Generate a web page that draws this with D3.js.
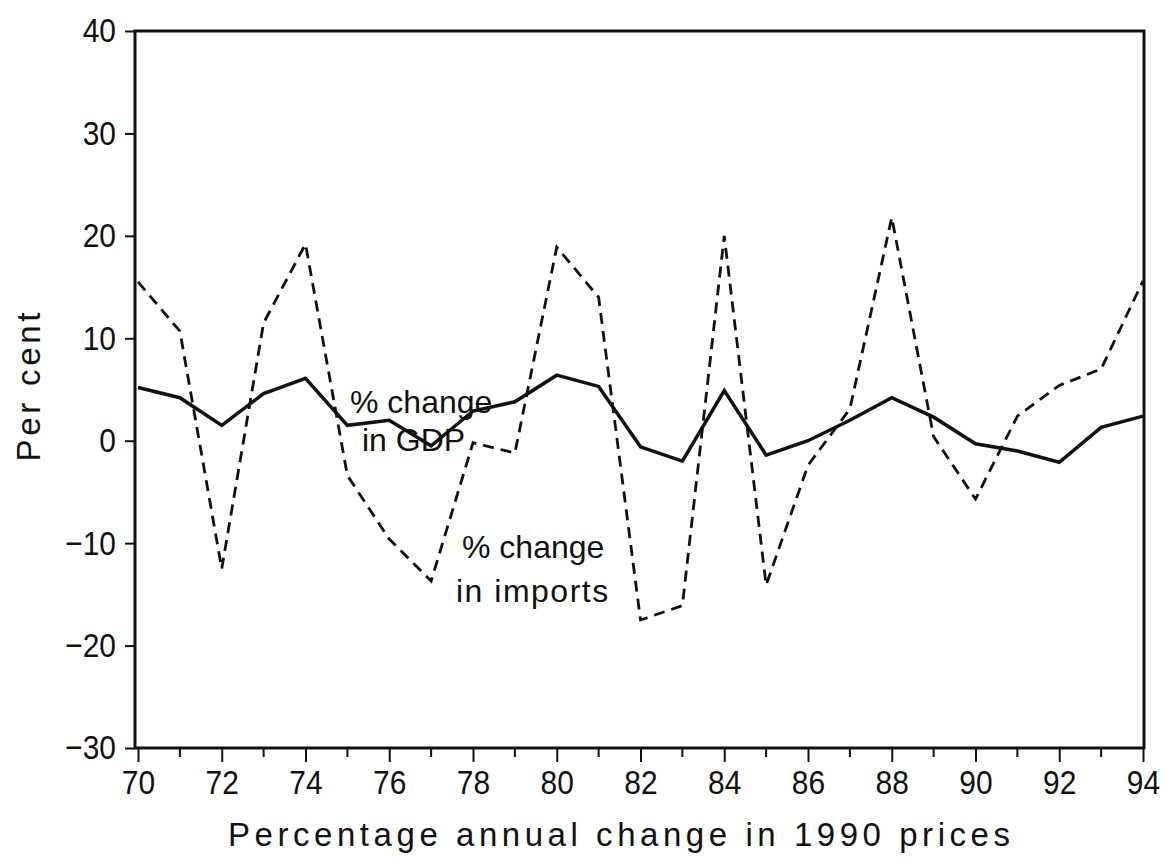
<!DOCTYPE html>
<html>
    <head>
        <meta charset="utf-8">
        <title>Percentage annual change in 1990 prices</title>
        <script src="https://d3js.org/d3.v7.min.js"></script>
        <style>
            body { margin: 0; background: #fff; }
            text { font-family: "Liberation Sans", Arial, sans-serif; fill: #111; }
            .cond { transform-box: fill-box; transform-origin: center; transform: scaleX(0.88); }
        </style>
    </head>
    <body>
        <svg width="1168" height="862"></svg>

        <script type="text/javascript">
            // years 1970..1994 (shown as two digits)
            const years = d3.range(70, 95);
            // % change in GDP (solid)
            const gdp = [5.2, 4.2, 1.5, 4.6, 6.1, 1.5, 2.0, -0.5, 2.9, 3.8, 6.4, 5.3, -0.6, -2.0, 4.9, -1.4, 0.0, 2.0, 4.2, 2.3, -0.3, -1.0, -2.1, 1.3, 2.4];
            // % change in imports (dashed)
            const imports = [15.5, 10.7, -12.5, 11.5, 19.2, -3.4, -9.6, -13.7, -0.2, -1.2, 18.9, 14.0, -17.5, -16.1, 20.0, -14.1, -2.4, 3.1, 21.8, 0.4, -5.7, 2.4, 5.4, 7.0, 15.6];
            const yTicks = [-30, -20, -10, 0, 10, 20, 30, 40];
            const xTicks = [70, 72, 74, 76, 78, 80, 82, 84, 86, 88, 90, 92, 94];

            const svg = d3.select('svg');

            const xScale = d3.scaleLinear()
                            .domain([70, 94])
                            .range([138, 1143]);
            const yScale = d3.scaleLinear()
                            .domain([-30, 40])
                            .range([748, 31]);

            // frame
            svg.append('rect')
                .attr('x', xScale(70) - 3)
                .attr('y', yScale(40))
                .attr('width', xScale(94) - xScale(70) + 4)
                .attr('height', yScale(-30) - yScale(40))
                .attr('fill', 'none')
                .attr('stroke', '#111')
                .attr('stroke-width', 3);

            // y axis
            const yAxis = d3.axisLeft(yScale)
                            .tickValues(yTicks)
                            .tickSize(10)
                            .tickPadding(9)
                            .tickFormat(d => d < 0 ? '\u2212' + Math.abs(d) : d);
            const gy = svg.append('g')
                .attr('transform', `translate(${xScale(70) - 3},0)`)
                .call(yAxis);
            gy.select('.domain').remove();
            gy.selectAll('line').attr('stroke', '#111').attr('stroke-width', 2);
            gy.selectAll('text').attr('font-size', 34).attr('fill', '#111')
                .style('font-family', '"Liberation Sans", Arial, sans-serif')
                .style('transform-origin', 'right center')
                .classed('cond', true);

            // x axis, major ticks
            const xAxis = d3.axisBottom(xScale)
                            .tickValues(xTicks)
                            .tickSize(14)
                            .tickPadding(8)
                            .tickFormat(d => d);
            const gx = svg.append('g')
                .attr('transform', `translate(0,${yScale(-30)})`)
                .call(xAxis);
            gx.select('.domain').remove();
            gx.selectAll('line').attr('stroke', '#111').attr('stroke-width', 2);
            gx.selectAll('text').attr('font-size', 34).attr('fill', '#111')
                .style('font-family', '"Liberation Sans", Arial, sans-serif')
                .classed('cond', true);

            // minor ticks on odd years
            svg.append('g')
                .selectAll('line')
                .data(years.filter(d => d % 2 === 1))
                .enter()
                .append('line')
                .attr('x1', d => xScale(d))
                .attr('x2', d => xScale(d))
                .attr('y1', yScale(-30))
                .attr('y2', yScale(-30) + 9)
                .attr('stroke', '#111')
                .attr('stroke-width', 2);

            const line = d3.line()
                            .x((d, i) => xScale(years[i]))
                            .y(d => yScale(d));

            svg.append('path')
                .datum(imports)
                .attr('d', line)
                .attr('fill', 'none')
                .attr('stroke', '#111')
                .attr('stroke-width', 2.8)
                .attr('stroke-dasharray', '11,7');

            svg.append('path')
                .datum(gdp)
                .attr('d', line)
                .attr('fill', 'none')
                .attr('stroke', '#111')
                .attr('stroke-width', 3.5);

            // annotations
            const notes = [
                {t: '% change', x: 350, y: 413},
                {t: 'in GDP', x: 362, y: 451},
                {t: '% change', x: 462, y: 558},
                {t: 'in imports', x: 456, y: 602}
            ];
            svg.append('g')
                .selectAll('text')
                .data(notes)
                .enter()
                .append('text')
                .attr('x', d => d.x)
                .attr('y', d => d.y)
                .attr('font-size', 32)
                .attr('letter-spacing', d => d.t === 'in imports' ? 1.5 : 0)
                .text(d => d.t);

            // axis titles
            svg.append('text')
                .attr('x', 228)
                .attr('y', 846)
                .attr('font-size', 33)
                .attr('textLength', 782)
                .attr('lengthAdjust', 'spacing')
                .text('Percentage annual change in 1990 prices');

            svg.append('text')
                .attr('transform', 'translate(40,387) rotate(-90)')
                .attr('text-anchor', 'middle')
                .attr('font-size', 33)
                .attr('textLength', 149)
                .attr('lengthAdjust', 'spacing')
                .text('Per cent');
        </script>
    </body>
</html>
